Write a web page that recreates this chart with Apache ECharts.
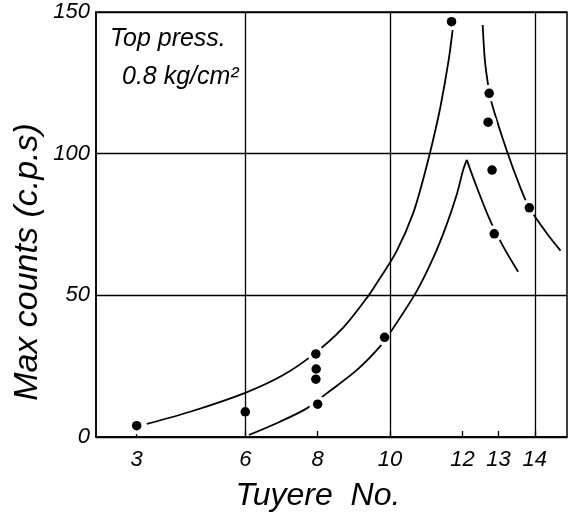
<!DOCTYPE html>
<html>
<head>
<meta charset="utf-8">
<script src="https://cdn.jsdelivr.net/npm/echarts@6/dist/echarts.min.js"></script>
<style>
html,body{margin:0;padding:0;background:#fff;}
#c{width:572px;height:513px;}
</style>
</head>
<body>
<div id="c"></div>
<script>
// ---- data ----
const xTickValues = [3, 6, 8, 10, 12, 13, 14];
const xGridValues = [6, 10, 14];
const yTickLabels = [0, 50, 100, 150];

// measured points (Tuyere No., Max counts)
const dotX = [3, 6, 7.95, 7.96, 7.95, 8, 9.85, 11.7, 12.74, 12.71, 12.82, 13.85, 12.88];
const dotY = [4.0, 8.9, 29.3, 24.0, 20.4, 11.6, 35.2, 146.6, 121.3, 111.1, 94.2, 80.9, 71.7];

// hand-drawn curves
const upperRiseX = [3.28, 4.5, 6.0, 7.0, 7.85, 8.7, 9.4, 9.72, 10.18, 10.64, 10.96, 11.19, 11.4, 11.62, 11.73];
const upperRiseY = [4.6, 9.0, 15.6, 21.5, 28.8, 38.5, 49.8, 56.0, 65.5, 79.0, 93.1, 104.8, 117.0, 133.0, 143.7];

const upperFallX = [12.56, 12.62, 12.71, 12.81, 13.22, 13.59, 13.85, 14.33, 14.71];
const upperFallY = [145.4, 133.1, 124.3, 117.8, 101.3, 88.4, 80.9, 71.9, 65.8];

const lowerRiseX = [6.10, 6.96, 7.70, 8.25, 9.08, 9.72, 10.04, 10.73, 11.19, 11.56, 11.84, 12.02, 12.12];
const lowerRiseY = [0.7, 5.4, 10.1, 15.4, 23.6, 31.9, 37.5, 51.3, 63.1, 74.8, 85.4, 94.2, 97.8];

const lowerFallX = [12.12, 12.39, 12.76, 13.13, 13.54];
const lowerFallY = [97.8, 88.4, 76.6, 67.2, 58.3];

const annotLine1 = 'Top press.';
const annotLine2 = '0.8 kg/cm²';
const xTitle = 'Tuyere  No.';
const yTitle = 'Max counts (c.p.s)';

// ---- build ----
const zip = (xs, ys) => xs.map((x, i) => [x, ys[i]]);
const FONT = "'Liberation Sans', Arial, sans-serif";

const curveStyle = { color: '#000', width: 1.8 };
function curve(xs, ys) {
  return {
    type: 'line', data: zip(xs, ys), smooth: 0.3, showSymbol: false, symbol: 'none',
    lineStyle: curveStyle, z: 2, silent: true, animation: false
  };
}

const chart = echarts.init(document.getElementById('c'), null, { renderer: 'canvas' });
chart.setOption({
  backgroundColor: '#fff',
  animation: false,
  grid: { left: 96, right: 5, top: 12, bottom: 76, show: true, borderColor: '#000', borderWidth: 1.5, backgroundColor: 'transparent' },
  xAxis: {
    type: 'value', min: 1.876, max: 14.89,
    axisLine: { show: true, lineStyle: { color: '#000', width: 1.5 } },
    axisTick: { show: true, inside: true, length: 6, customValues: xTickValues, lineStyle: { color: '#000', width: 1.3 } },
    axisLabel: { customValues: xTickValues, margin: 12, color: '#000', fontSize: 22, fontStyle: 'italic', fontFamily: FONT },
    splitLine: { show: false }
  },
  yAxis: {
    type: 'value', min: 0, max: 150, interval: 50,
    axisLine: { show: true, lineStyle: { color: '#000', width: 1.5 } },
    axisTick: { show: false },
    axisLabel: { margin: 6, color: '#000', fontSize: 22, fontStyle: 'italic', fontFamily: FONT,
      formatter: v => (yTickLabels.indexOf(v) >= 0 ? String(v) : '') },
    splitLine: { show: true, lineStyle: { color: '#000', width: 1.3 } }
  },
  series: [
    {
      type: 'line', data: [], z: 1, silent: true,
      markLine: {
        silent: true, symbol: 'none', animation: false,
        label: { show: false },
        lineStyle: { color: '#000', width: 1.3, type: 'solid' },
        data: xGridValues.map(v => ({ xAxis: v }))
      }
    },
    curve(upperRiseX, upperRiseY),
    curve(upperFallX, upperFallY),
    curve(lowerRiseX, lowerRiseY),
    curve(lowerFallX, lowerFallY),
    {
      type: 'scatter', data: zip(dotX, dotY), symbol: 'circle', symbolSize: 17,
      itemStyle: { color: '#fff', opacity: 1 }, z: 3, silent: true
    },
    {
      type: 'scatter', data: zip(dotX, dotY), symbol: 'circle', symbolSize: 9.5,
      itemStyle: { color: '#000', opacity: 1 }, z: 4, silent: true
    }
  ],
  graphic: [
    { type: 'text', x: 110, y: 39, z: 10, style: { text: annotLine1, fill: '#000', font: 'italic 25px ' + FONT, verticalAlign: 'middle', align: 'left' } },
    { type: 'text', x: 122, y: 77, z: 10, style: { text: annotLine2, fill: '#000', font: 'italic 25px ' + FONT, verticalAlign: 'middle', align: 'left' } },
    { type: 'text', x: 318, y: 496, z: 10, style: { text: xTitle, fill: '#000', font: 'italic 32px ' + FONT, verticalAlign: 'middle', align: 'center' } },
    { type: 'text', x: 28, y: 262, rotation: Math.PI / 2, z: 10, style: { text: yTitle, fill: '#000', font: 'italic 34px ' + FONT, verticalAlign: 'middle', align: 'center' } }
  ]
});
</script>
</body>
</html>
